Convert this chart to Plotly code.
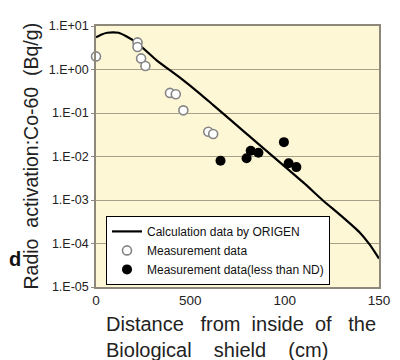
import plotly.graph_objects as go

# Calculation curve (ORIGEN)
calc_x = [0, 3, 6, 9, 12, 16, 22, 32, 44.5, 55, 62, 80, 110, 120, 130, 140, 145, 150]
calc_y = [5.5, 6.4, 7.0, 7.1, 7.0, 5.8, 4.0, 1.65, 0.65, 0.28, 0.154, 0.0327,
          0.0025, 0.0010, 4.3e-4, 1.75e-4, 9.5e-5, 4.5e-5]

# Measurement data (open circles)
meas_x = [0, 22, 22, 23.9, 26.2, 39.2, 42.3, 46.3, 59.5, 62.1]
meas_y = [2.0, 4.2, 3.3, 1.8, 1.2, 0.29, 0.27, 0.115, 0.037, 0.033]

# Measurement data less than ND (filled circles)
nd_x = [66.0, 79.8, 82.0, 86.1, 99.6, 102.1, 106.2]
nd_y = [0.0080, 0.0091, 0.0135, 0.0122, 0.0214, 0.0070, 0.0057]

x_tickvals = [0, 50, 100, 150]
x_ticktext = ["0", "500", "100", "150"]
y_tickvals = [1e1, 1e0, 1e-1, 1e-2, 1e-3, 1e-4, 1e-5]
y_ticktext = ["1.E+01", "1.E+00", "1.E-01", "1.E-02", "1.E-03", "1.E-04", "1.E-05"]

FONT = "Liberation Sans, Arial, Helvetica, sans-serif"
AXC = "#8E887A"

# plot area on the page (the html body adds an 8px offset)
PX0, PX1, PY0, PY1 = 96, 379, 19, 287


def px(x):
    return (x - PX0) / (PX1 - PX0)


def py(y):
    return (PY1 - y) / (PY1 - PY0)


fig = go.Figure()
fig.add_trace(go.Scatter(
    x=calc_x, y=calc_y, mode="lines", name="Calculation data by ORIGEN",
    line=dict(color="black", width=2.2, shape="spline", smoothing=0.6),
    cliponaxis=True))
fig.add_trace(go.Scatter(
    x=meas_x, y=meas_y, mode="markers", name="Measurement data",
    marker=dict(symbol="circle", size=9, color="white",
                line=dict(color="#858585", width=1.6)),
    cliponaxis=False))
fig.add_trace(go.Scatter(
    x=nd_x, y=nd_y, mode="markers", name="Measurement data(less than ND)",
    marker=dict(symbol="circle", size=10, color="black"),
    cliponaxis=False))

fig.update_layout(
    width=400, height=360,
    margin=dict(l=88, r=29, t=11, b=81),
    paper_bgcolor="white", plot_bgcolor="#FEF7D6",
    font=dict(family=FONT, color="#222"),
    showlegend=True,
    legend=dict(x=px(106), y=py(214), xanchor="left", yanchor="top",
                bgcolor="white", bordercolor="black", borderwidth=1,
                font=dict(size=12, color="#111"), tracegroupgap=0,
                itemwidth=30),
    xaxis=dict(range=[0, 150], tickvals=x_tickvals, ticktext=x_ticktext,
               showgrid=False, zeroline=False, showline=True, linecolor=AXC,
               linewidth=1.5, mirror=True, ticks="",
               tickfont=dict(size=13.5, color="#222")),
    yaxis=dict(type="log", range=[-5, 1], tickvals=y_tickvals, ticktext=y_ticktext,
               showgrid=True, gridcolor="#A8A088", gridwidth=1.2,
               zeroline=False, showline=True, linecolor=AXC, linewidth=1.5,
               mirror=True, ticks="outside", ticklen=3, tickcolor=AXC,
               tickfont=dict(size=12.5, color="#222")),
    annotations=[
        dict(text="Radio  activation:Co-60  (Bq/g)", textangle=-90,
             xref="paper", yref="paper", x=px(30), y=py(153),
             xanchor="center", yanchor="middle", showarrow=False,
             font=dict(size=19.5, color="#222", family=FONT)),
        dict(text="Distance   from  inside  of   the<br>Biological    shield    (cm)",
             xref="paper", yref="paper", x=px(104), y=py(338),
             xanchor="left", yanchor="middle", align="left", showarrow=False,
             font=dict(size=20, color="#222", family=FONT)),
        dict(text="<b>d</b>", xref="paper", yref="paper",
             x=px(23), y=py(258),
             xanchor="right", yanchor="middle", showarrow=False,
             font=dict(size=20, color="#111", family=FONT)),
    ],
)

fig.write_html("out.html")
